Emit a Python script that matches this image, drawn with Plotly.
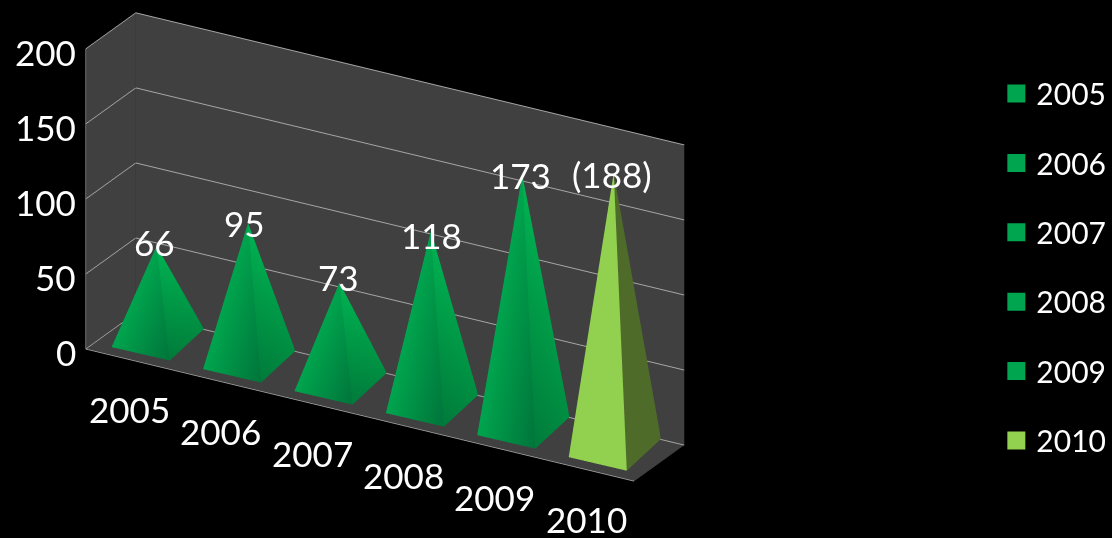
import plotly.graph_objects as go

years = ["2005", "2006", "2007", "2008", "2009", "2010"]
heights = [61, 91, 66, 115, 167, 183]
labels = ["66", "95", "73", "118", "173", "(188)"]
left_top = ["#00A54E"] * 5 + ["#92D050"]
left_dark = ["#00743A"] * 5 + ["#92D050"]
right_top = ["#00B452"] * 5 + ["#4F6B2A"]
right_dark = ["#007A3A"] * 5 + ["#4F6B2A"]
right_far = ["#008E42"] * 5 + ["#4F6B2A"]
legend_colors = ["#00A54F"] * 5 + ["#92D050"]
y_ticks = [0, 50, 100, 150, 200]

APEX_X, APEX_Y = 0.45, 0.595
LEFT_X, LEFT_Y = 0.19, 0.17
FRONT_X, FRONT_Y = 0.82, 0.18
RIGHT_X, RIGHT_Y = 0.74, 1.01
LABEL_SHIFT_Y = [4, 0, 5, -4, 0, -1]
LABEL_SHIFT_X = [-2, -3, -1, 1, -1, -1]
TICK_FONT = dict(size=35, color="white", family="Lato")

fig = go.Figure()
for i, (yr, h) in enumerate(zip(years, heights)):
    xs = [i + LEFT_X, i + FRONT_X, i + APEX_X, i + FRONT_X, i + RIGHT_X, i + APEX_X]
    ys = [LEFT_Y, FRONT_Y, APEX_Y, FRONT_Y, RIGHT_Y, APEX_Y]
    zs = [0, 0, h, 0, 0, h]
    vc = [left_top[i], left_dark[i], left_top[i], right_dark[i], right_far[i], right_top[i]]
    fig.add_trace(go.Mesh3d(
        x=xs, y=ys, z=zs, i=[0, 3], j=[1, 4], k=[2, 5], vertexcolor=vc,
        lighting=dict(ambient=1, diffuse=0, specular=0, roughness=1, fresnel=0),
        showlegend=False, hoverinfo="skip",
    ))
    fig.add_trace(go.Scatter(
        x=[None], y=[None], mode="markers", name=yr, hoverinfo="skip",
        marker=dict(symbol="square", size=16, color=legend_colors[i], line=dict(color=legend_colors[i], width=2)),
        legendgroup=yr,
    ))

top, base = y_ticks[-1], y_ticks[0]
edges = [([0, 0], [1, 1], [base, top], "#363636"),
         ([0, 0], [0, 0], [base, top], "#8C8C8C"),
         ([0, 6], [0, 0], [base, base], "#A6A6A6")]
for ex, ey, ez, ec in edges:
    fig.add_trace(go.Scatter3d(x=ex, y=ey, z=ez, mode="lines", line=dict(color=ec, width=1.5),
                               showlegend=False, hoverinfo="skip"))

annots = [dict(x=i + APEX_X, y=APEX_Y, z=h, text=t, showarrow=False, xanchor="center", yanchor="middle",
               xshift=LABEL_SHIFT_X[i], yshift=LABEL_SHIFT_Y[i], font=TICK_FONT)
          for i, (h, t) in enumerate(zip(heights, labels))]
annots += [dict(x=i + 0.5, y=0, z=0, text=yr, showarrow=False, xanchor="center", yanchor="middle",
                xshift=-2, yshift=-49, font=TICK_FONT) for i, yr in enumerate(years)]
annots += [dict(x=0, y=0, z=v, text=str(v), showarrow=False, xanchor="right", yanchor="middle",
                xshift=-8, yshift=-3, font=TICK_FONT) for v in y_ticks]

ax = dict(showbackground=True, backgroundcolor="#404040", showspikes=False, title="", zeroline=False,
          showticklabels=False, ticks="")
fig.update_layout(
    width=1112, height=538,
    paper_bgcolor="black", plot_bgcolor="rgba(0,0,0,0)", margin=dict(l=0, r=0, t=0, b=0),
    font=dict(family="Lato", color="white"),
    xaxis=dict(visible=False, domain=[0.95, 1]), yaxis=dict(visible=False, domain=[0.95, 1]),
    legend=dict(x=0.896, xanchor="left", y=0.5037, yanchor="middle", bgcolor="rgba(0,0,0,0)",
                font=dict(size=30, color="white"), tracegroupgap=27.4, itemwidth=30),
    scene=dict(
        domain=dict(x=[0, 0.692], y=[0.082, 1]),
        aspectmode="manual", aspectratio=dict(x=2.565, y=0.405, z=1.337),
        camera=dict(projection=dict(type="orthographic"), eye=dict(x=0.455, y=-0.787, z=0.4165),
                    up=dict(x=0, y=0, z=1), center=dict(x=0, y=0, z=0)),
        xaxis=dict(ax, range=[0, 6], showgrid=False),
        yaxis=dict(ax, range=[0, 1], showgrid=False),
        zaxis=dict(ax, range=[0, 200], tickvals=y_ticks, gridcolor="#A6A6A6"),
        annotations=annots,
    ),
)
fig.write_html("out.html", config=dict(displayModeBar=False),
               post_script="document.body.style.margin='0';document.body.style.background='black';")
